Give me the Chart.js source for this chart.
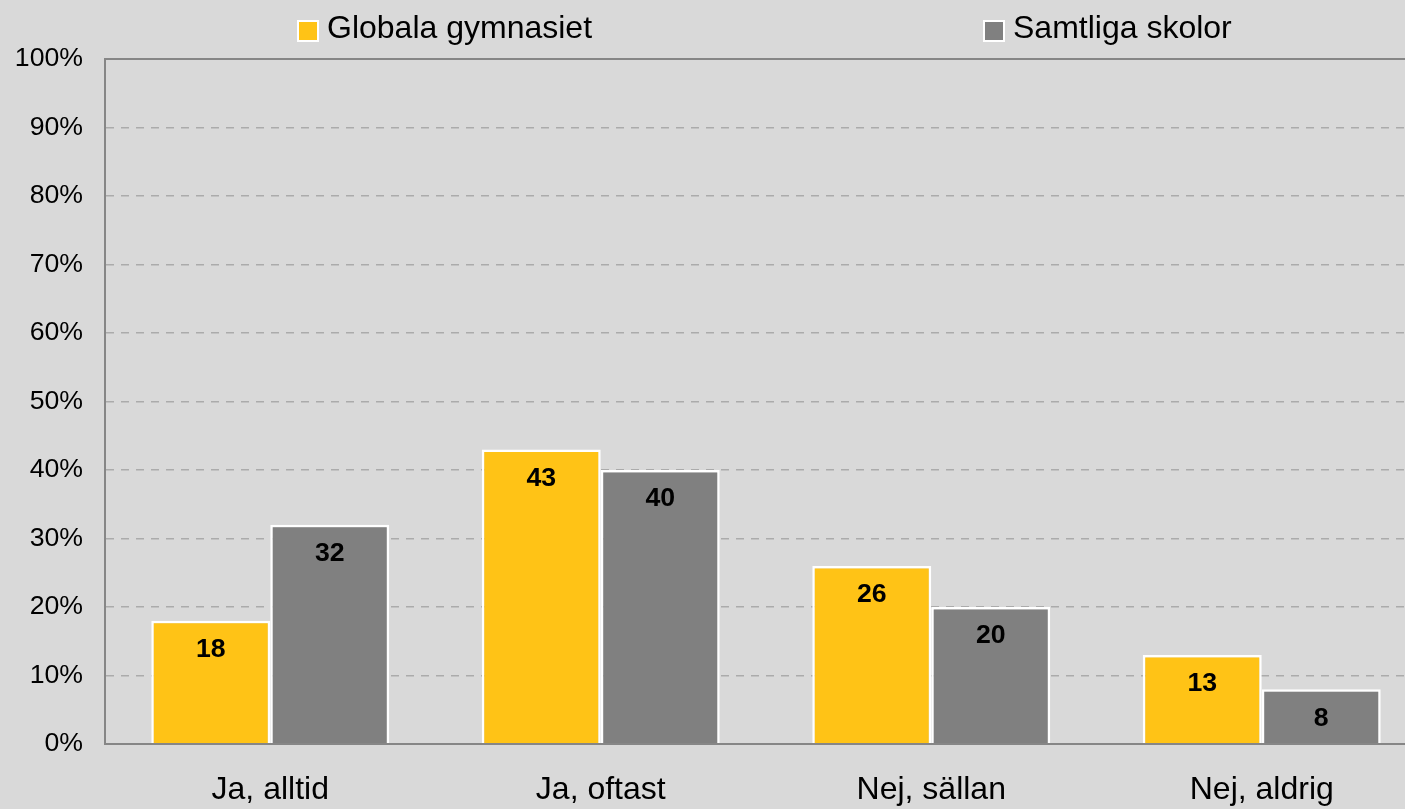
<!DOCTYPE html>
<html>
<head>
<meta charset="utf-8">
<script src="https://cdn.jsdelivr.net/npm/chart.js@4/dist/chart.umd.min.js"></script>
<style>
  html, body { margin: 0; padding: 0; background: #D9D9D9; overflow: hidden; width: 1405px; height: 809px; }
  #wrap { width: 1428px; height: 809px; }
  canvas { display: block; background: #D9D9D9; }
</style>
</head>
<body>
<div id="wrap"><canvas id="c" width="1428" height="809"></canvas></div>
<script>
const categories = ["Ja, alltid", "Ja, oftast", "Nej, sällan", "Nej, aldrig"];
const seriesNames = ["Globala gymnasiet", "Samtliga skolor"];
const globalaValues = [18, 43, 26, 13];
const samtligaValues = [32, 40, 20, 8];
const yTicks = [0, 10, 20, 30, 40, 50, 60, 70, 80, 90, 100];

const FONT = "'Liberation Sans', Arial, Helvetica, sans-serif";
const AXIS = '#868686';

const frameAndLabels = {
  id: 'frameAndLabels',
  afterDatasetsDraw(chart) {
    const ctx = chart.ctx;
    const a = chart.chartArea;
    // data labels
    ctx.save();
    ctx.font = "bold 26.67px " + FONT;
    ctx.fillStyle = '#000';
    ctx.textAlign = 'center';
    ctx.textBaseline = 'middle';
    chart.data.datasets.forEach((ds, i) => {
      const meta = chart.getDatasetMeta(i);
      meta.data.forEach((el, j) => {
        ctx.fillText(String(ds.data[j]), el.x, el.y + 29);
      });
    });
    ctx.restore();
    // frame
    ctx.save();
    ctx.strokeStyle = AXIS;
    ctx.lineWidth = 2;
    ctx.beginPath();
    ctx.moveTo(a.left, a.top);
    ctx.lineTo(a.right, a.top);
    ctx.moveTo(a.left, a.top);
    ctx.lineTo(a.left, a.bottom);
    ctx.lineTo(a.right, a.bottom);
    ctx.stroke();
    ctx.restore();
  },
  afterDraw(chart) {
    // legend
    const ctx = chart.ctx;
    const xs = [297, 983];
    ctx.save();
    ctx.font = "32px " + FONT;
    ctx.textAlign = 'left';
    ctx.textBaseline = 'alphabetic';
    chart.data.datasets.forEach((ds, i) => {
      const x = xs[i];
      ctx.fillStyle = '#FFFFFF';
      ctx.fillRect(x, 20, 22, 22);
      ctx.fillStyle = ds.backgroundColor;
      ctx.fillRect(x + 2, 22, 18, 18);
      ctx.fillStyle = '#000';
      ctx.fillText(ds.label, x + 30, 37.5);
    });
    ctx.restore();
  }
};

new Chart(document.getElementById('c'), {
  type: 'bar',
  data: {
    labels: categories,
    datasets: [
      { label: seriesNames[0], data: globalaValues, backgroundColor: '#FFC316', borderColor: '#FFFFFF', borderWidth: 2.5 },
      { label: seriesNames[1], data: samtligaValues, backgroundColor: '#808080', borderColor: '#FFFFFF', borderWidth: 2.5 }
    ]
  },
  options: {
    responsive: false,
    animation: false,
    devicePixelRatio: 1,
    layout: { padding: { top: 59, left: 0, right: 1, bottom: 0 } },
    datasets: { bar: { categoryPercentage: 0.72, barPercentage: 1.0 } },
    plugins: { legend: { display: false }, tooltip: { enabled: false } },
    scales: {
      x: {
        grid: { display: false, drawTicks: false },
        border: { display: true, color: AXIS, width: 2 },
        ticks: { color: '#000', font: { family: FONT, size: 32 }, padding: 27, maxRotation: 0 },
        afterFit(scale) { scale.height = 65; }
      },
      y: {
        min: 0, max: 100,
        afterBuildTicks(scale) { scale.ticks = yTicks.map(v => ({ value: v })); },
        grid: { color: '#ABABAB', lineWidth: 1.5, drawTicks: false },
        border: { display: true, color: AXIS, width: 2, dash: [8, 7] },
        ticks: { color: '#000', font: { family: FONT, size: 26.67 }, padding: 22, callback: v => v + '%' },
        afterFit(scale) { scale.width = 105; }
      }
    }
  },
  plugins: [frameAndLabels]
});
</script>
</body>
</html>
